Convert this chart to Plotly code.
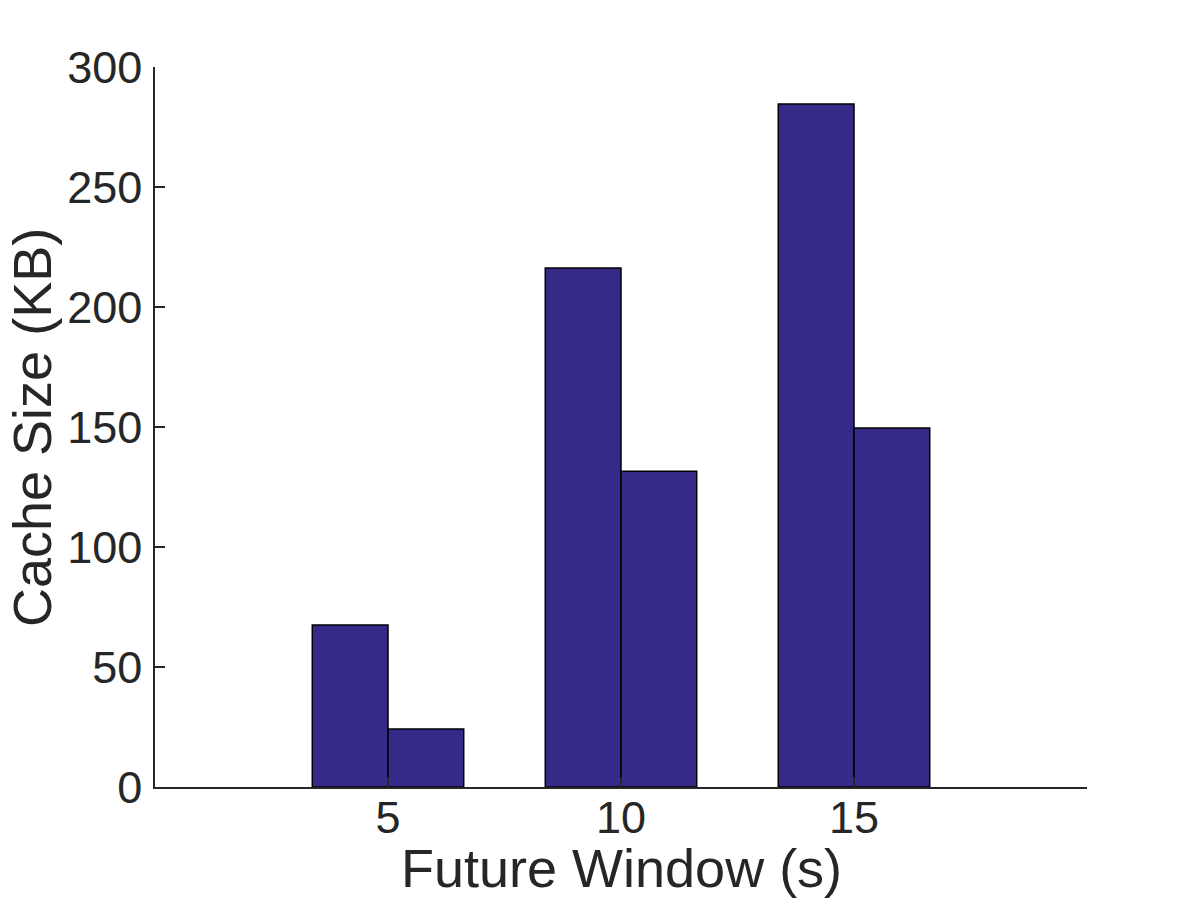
import plotly.graph_objects as go

windows = [5, 10, 15]
series_a = [67.5, 216.2, 284.6]
series_b = [24.2, 131.6, 149.6]
x_ticks = [5, 10, 15]
y_ticks = [0, 50, 100, 150, 200, 250, 300]

bar_color = "#352A87"
text_color = "#262626"
font_family = "Liberation Sans, Arial, Helvetica, sans-serif"

fig = go.Figure()
for vals in (series_a, series_b):
    fig.add_trace(go.Bar(
        x=windows, y=vals,
        marker=dict(color=bar_color, line=dict(color="#000000", width=1.5)),
        showlegend=False,
    ))

# page body has an 8px margin, so the figure is offset by 8px
fig.update_layout(
    width=1184, height=892,
    barmode="group", bargap=0.35, bargroupgap=0,
    plot_bgcolor="white", paper_bgcolor="white",
    margin=dict(l=147, r=105, t=59, b=113),
    font=dict(family=font_family, color=text_color),
    annotations=[
        dict(text="Future Window (s)", xref="paper", yref="paper",
             x=(621 - 155) / 932, y=(787 - 868) / 720,
             xanchor="center", yanchor="middle", showarrow=False,
             font=dict(size=54, family=font_family, color=text_color)),
        dict(text="Cache Size (KB)", xref="paper", yref="paper",
             x=(32 - 155) / 932, y=(787 - 428) / 720, textangle=-90,
             xanchor="center", yanchor="middle", showarrow=False,
             font=dict(size=54, family=font_family, color=text_color)),
    ],
)
fig.update_xaxes(
    range=[0, 20], tickvals=x_ticks, ticktext=[str(t) for t in x_ticks],
    automargin=False,
    showgrid=False, zeroline=False, showline=True, linecolor=text_color, linewidth=1.5,
    ticks="inside", ticklen=10, tickwidth=1.5, tickcolor=text_color,
    tickfont=dict(size=45, family=font_family, color=text_color),
    ticklabelstandoff=-10,
)
fig.update_yaxes(
    range=[0, 300], tickvals=y_ticks,
    automargin=False,
    showgrid=False, zeroline=False, showline=True, linecolor=text_color, linewidth=1.5,
    ticks="inside", ticklen=10, tickwidth=1.5, tickcolor=text_color,
    tickfont=dict(size=45, family=font_family, color=text_color),
    ticklabelstandoff=2,
)

fig.write_html("out.html")
